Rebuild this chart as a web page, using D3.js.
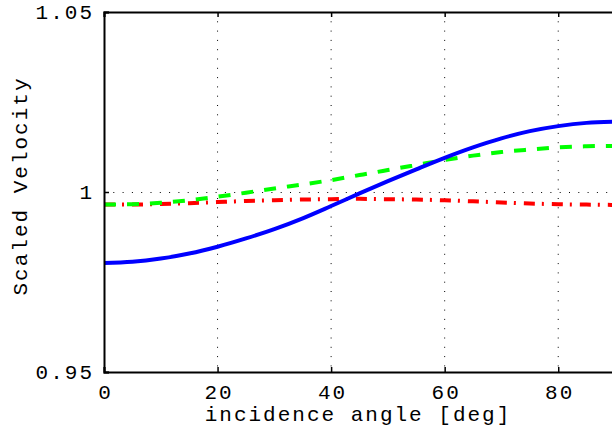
<!DOCTYPE html>
<html>
<head>
<meta charset="utf-8">
<script src="https://cdn.jsdelivr.net/npm/d3@7"></script>
<style>
  body { margin: 0; background: #fff; }
  text { font-family: "Liberation Mono", "DejaVu Sans Mono", monospace; font-size: 21px; letter-spacing: 2px; fill: #000; }
</style>
</head>
<body>
<svg id="chart" width="612" height="430"></svg>
<script>
const angles = [0, 5, 10, 15, 20, 25, 30, 35, 40, 45, 50, 55, 60, 65, 70, 75, 80, 85, 90];
const blueVals = [0.9803, 0.9806, 0.9815, 0.9829, 0.9848, 0.9871, 0.9897, 0.9927, 0.9961, 0.9996,
  1.0030, 1.0063, 1.0095, 1.0124, 1.0149, 1.0169, 1.0183, 1.0192, 1.0195];
const greenVals = [0.9965, 0.9966, 0.9970, 0.9977, 0.9987, 0.9998, 1.0010, 1.0021, 1.0033, 1.0047,
  1.0061, 1.0075, 1.0089, 1.0101, 1.0111, 1.0118, 1.0124, 1.0127, 1.0128];
const redVals = [0.9965, 0.9965, 0.9967, 0.9969, 0.9972, 0.9975, 0.9977, 0.9979, 0.9980, 0.9981,
  0.9980, 0.9979, 0.9977, 0.9974, 0.9971, 0.9968, 0.9966, 0.9965, 0.9964];
const xTicks = [0, 20, 40, 60, 80];
const yTicks = [0.95, 1, 1.05];
const yTickLabels = ['0.95', '1', '1.05'];

const svg = d3.select('#chart');
const x = d3.scaleLinear().domain([0, 90]).range([104, 615]);
const y = d3.scaleLinear().domain([0.95, 1.05]).range([372, 12]);

// grid
svg.append('g').selectAll('line').data(xTicks.slice(1)).join('line')
  .attr('x1', d => x(d)).attr('x2', d => x(d)).attr('y1', y(1.05)).attr('y2', y(0.95))
  .attr('stroke', '#000').attr('stroke-width', 1).attr('stroke-dasharray', '1,8.3');
svg.append('line')
  .attr('x1', x(0)).attr('x2', x(90)).attr('y1', y(1) + 0.5).attr('y2', y(1) + 0.5)
  .attr('stroke', '#000').attr('stroke-width', 1).attr('stroke-dasharray', '1,8.3');

// curves
const line = d3.line().x((d, i) => x(angles[i])).y(d => y(d)).curve(d3.curveMonotoneX);
const series = [
  { vals: redVals, color: '#ff0000', dash: '11,7,2,8' },
  { vals: greenVals, color: '#00ff00', dash: '12,11' },
  { vals: blueVals, color: '#0000ff', dash: null }
];
for (const s of series) {
  svg.append('path')
    .attr('d', line(s.vals))
    .attr('fill', 'none')
    .attr('stroke', s.color)
    .attr('stroke-width', 4)
    .attr('stroke-dasharray', s.dash);
}

// axes box
svg.append('g').attr('transform', `translate(0,${y(0.95)})`)
  .call(d3.axisBottom(x).tickValues(xTicks).tickSize(-5).tickPadding(12).tickFormat(d3.format('d')))
  .call(g => g.select('.domain').attr('stroke-width', 2))
  .call(g => g.selectAll('.tick line').attr('stroke-width', 1.5))
  .call(g => g.selectAll('text').attr('font-size', null).attr('font-family', null).attr('dx', '1px'));
svg.append('g').attr('transform', `translate(0,${y(1.05)})`)
  .call(d3.axisTop(x).tickValues(xTicks).tickSize(-5).tickFormat(''))
  .call(g => g.select('.domain').attr('stroke-width', 2))
  .call(g => g.selectAll('.tick line').attr('stroke-width', 1.5));
svg.append('g').attr('transform', `translate(${x(0)},0)`)
  .call(d3.axisLeft(y).tickValues(yTicks).tickSize(-5).tickPadding(10).tickFormat((d, i) => yTickLabels[i]))
  .call(g => g.select('.domain').attr('stroke-width', 2))
  .call(g => g.selectAll('.tick line').attr('stroke-width', 1.5))
  .call(g => g.selectAll('text').attr('font-size', null).attr('font-family', null));

// labels
svg.append('text')
  .attr('x', 358).attr('y', 421)
  .attr('text-anchor', 'middle')
  .text('incidence angle [deg]');
svg.append('text')
  .attr('transform', 'translate(27,186) rotate(-90)')
  .attr('text-anchor', 'middle')
  .text('Scaled Velocity');
</script>
</body>
</html>
